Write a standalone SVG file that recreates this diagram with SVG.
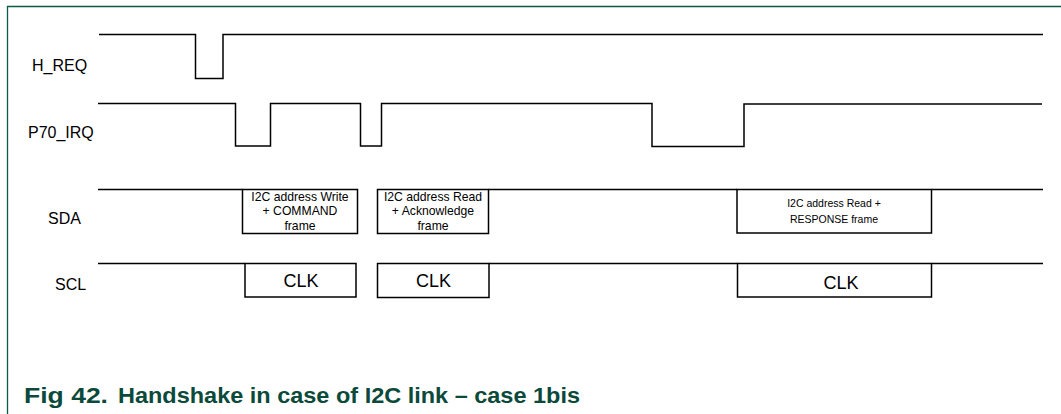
<svg xmlns="http://www.w3.org/2000/svg" width="1061" height="414" viewBox="0 0 1061 414">
<style>
.sig{fill:none;stroke:#000;stroke-width:1.5;stroke-linejoin:miter}
.box{fill:#fff;stroke:#000;stroke-width:1.5}
.lbl{font-family:"Liberation Sans",Arial,sans-serif;font-size:16px;fill:#000}
.bt{font-family:"Liberation Sans",Arial,sans-serif;font-size:12.2px;fill:#000;text-anchor:middle}
.bt3{font-family:"Liberation Sans",Arial,sans-serif;font-size:10.5px;fill:#000;text-anchor:middle}
.clk{font-family:"Liberation Sans",Arial,sans-serif;font-size:18px;fill:#000;text-anchor:middle}
.cap{font-family:"Liberation Sans",Arial,sans-serif;font-size:21.5px;font-weight:bold;fill:#0b4a3a}
</style>
<rect width="1061" height="414" fill="#fff"/>
<path d="M7.5,414 V6.5 H1061" fill="none" stroke="#0a5a46" stroke-width="1.3"/>
<g id="labels">
<text class="lbl" x="32" y="70.5">H_REQ</text>
<text class="lbl" x="28" y="137.5">P70_IRQ</text>
<text class="lbl" x="48" y="223.5">SDA</text>
<text class="lbl" x="55" y="289.5">SCL</text>
</g>
<g id="connectors">
<path id="h_req" class="sig" d="M99,34.5 H195.5 V78.5 H223 V34.5 H1043"/>
<path id="p70_irq" class="sig" d="M98,103.5 H235.5 V146 H270.5 V103.5 H360.5 V146 H381.5 V103.5 H652 V146.5 H744 V104 H1042"/>
<path id="sda_line" class="sig" d="M98,189.5 H242.5 M488.5,189.5 H737 M931.5,189.5 H1043"/>
<path id="scl_line" class="sig" d="M98,263.5 H245 M489,263.5 H737.5 M931.5,263.5 H1043"/>
</g>
<g id="sda1">
<rect class="box" x="242.5" y="189.5" width="115" height="44"/>
<text class="bt" x="300" y="201">I2C address Write</text>
<text class="bt" x="300" y="215">+ COMMAND</text>
<text class="bt" x="300" y="229.5">frame</text>
</g>
<g id="sda2">
<rect class="box" x="377.5" y="189.5" width="111" height="44"/>
<text class="bt" x="433" y="201">I2C address Read</text>
<text class="bt" x="433" y="215">+ Acknowledge</text>
<text class="bt" x="433" y="229.5">frame</text>
</g>
<g id="sda3">
<rect class="box" x="737" y="189.5" width="194.5" height="43.5"/>
<text class="bt3" x="834" y="207">I2C address Read +</text>
<text class="bt3" x="834" y="223">RESPONSE frame</text>
</g>
<g id="scl1">
<rect class="box" x="245" y="263.5" width="111" height="33.5"/>
<text class="clk" x="301" y="286.5">CLK</text>
</g>
<g id="scl2">
<rect class="box" x="377.5" y="263.5" width="111.5" height="34"/>
<text class="clk" x="433.5" y="286.5">CLK</text>
</g>
<g id="scl3">
<rect class="box" x="737.5" y="263.5" width="194" height="33.5"/>
<text class="clk" x="841" y="288.5">CLK</text>
</g>
<g id="caption">
<text class="cap" x="24" y="403" textLength="84" lengthAdjust="spacingAndGlyphs">Fig 42.</text>
<text class="cap" x="118" y="403" textLength="462" lengthAdjust="spacingAndGlyphs">Handshake in case of I2C link – case 1bis</text>
</g>
</svg>
